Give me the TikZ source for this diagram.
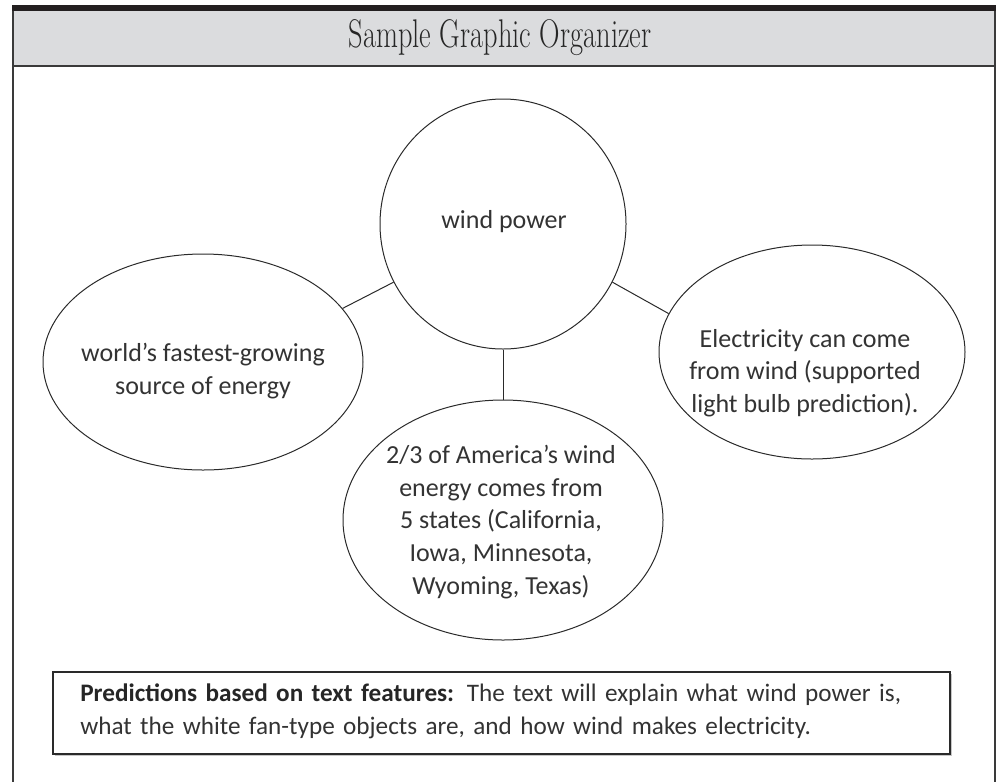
\documentclass[tikz,border=0pt]{standalone}
\usepackage{graphicx}
\usepackage{fontspec}
\newfontfamily\hand{Carlito}
\usetikzlibrary{shapes.geometric}
\definecolor{barc}{HTML}{231F20}
\definecolor{headc}{HTML}{DBDCDE}
\definecolor{framec}{HTML}{3A3A3A}
\definecolor{linec}{HTML}{2A2A2A}
\definecolor{textc}{HTML}{333333}
\begin{document}
\begin{tikzpicture}[x=0.75pt,y=-0.75pt,
  bubble/.style={draw=linec, line width=0.75pt, ellipse, inner sep=0pt},
  txt/.style={font=\hand\fontsize{19.5}{24.5}\selectfont, text=textc, align=center, inner sep=0pt},
  predtxt/.style={font=\hand\fontsize{18.9}{25}\selectfont, text=textc, align=left, inner sep=0pt},
  link/.style={draw=linec, line width=0.75pt},
  framel/.style={draw=framec, line width=1.5pt}]
\useasboundingbox (0,0) rectangle (998,782);
% frame
\fill[barc] (12,5) rectangle (996,11);
\fill[headc] (12,11) rectangle (995,66);
\draw[framel] (12.5,11) -- (12.5,782);
\draw[framel] (995,11) -- (995,782);
\draw[draw=framec, line width=1.6pt] (12,66) -- (995,66);
\node[font=\fontsize{30}{30}\selectfont, text=black!85, inner sep=0pt] (title) at (500,38) {\scalebox{0.71}[1]{Sample Graphic Organizer}};
% bubbles
\node[bubble, minimum width=184.5pt, minimum height=187.5pt] (top) at (503,224) {};
\node[bubble, minimum width=240pt, minimum height=162pt] (left) at (203,362) {};
\node[bubble, minimum width=229.5pt, minimum height=160.5pt] (right) at (812,352) {};
\node[bubble, minimum width=240pt, minimum height=180pt] (bottom) at (503,520) {};
% connectors
\draw[link] (top.208) -- (left.21);
\draw[link] (top.332) -- (right.165);
\draw[link] (top.south) -- (bottom.north);
% texts
\node[txt] (ttop) at (504,222) {wind power};
\node[txt] (tleft) at (203,371) {world’s fastest-growing\\source of energy};
\node[txt] (tright) at (805,373) {Electricity can come\\from wind (supported\\light bulb prediction).};
\node[txt] (tbottom) at (501,522) {2/3 of America’s wind\\energy comes from\\5 states (California,\\Iowa, Minnesota,\\Wyoming, Texas)};
% predictions box
\fill[gray!45] (55,674) rectangle (952,756);
\draw[draw=linec, fill=white, line width=0.9pt] (53,672) rectangle (950,754);
\node[predtxt, anchor=west, text width=860*0.75pt] (pred) at (80,711)
  {{\bfseries\color{black!85}Predictions based on text features:} The text will explain what wind power is,\\what the white fan-type objects are, and how wind makes electricity.};
\end{tikzpicture}
\end{document}
